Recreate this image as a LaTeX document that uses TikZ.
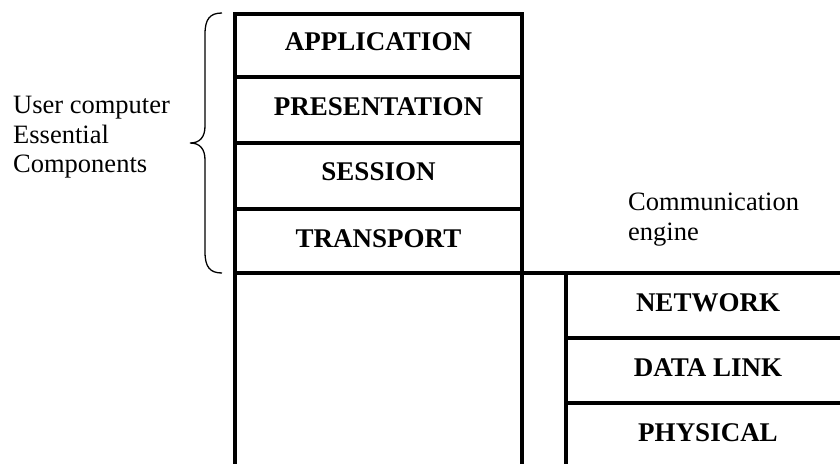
\documentclass[tikz,border=0pt]{standalone}
\usepackage{fontspec}
\setmainfont{Liberation Serif}
\begin{document}
\begin{tikzpicture}[x=1pt,y=-1pt,
  boxline/.style={line width=3.4pt, line join=miter},
  layer/.style={anchor=base, font=\fontsize{27}{30}\selectfont\bfseries, inner sep=0pt},
  note/.style={anchor=base west, font=\fontsize{26.5}{30}\selectfont, inner sep=0pt},
  bracel/.style={line width=1.3pt}]
\useasboundingbox (0,0) rectangle (840,463);
\clip (0,0) rectangle (840,463);
% left stack
\draw[boxline] (235,480) -- (235,14) -- (522,14) -- (522,480);
\draw[boxline] (235,77) -- (522,77);
\draw[boxline] (235,143) -- (522,143);
\draw[boxline] (235,209) -- (522,209);
\draw[boxline] (235,273) -- (860,273);
% right stack
\draw[boxline] (566,480) -- (566,273);
\draw[boxline] (566,338) -- (860,338);
\draw[boxline] (566,403) -- (860,403);
% labels
\node[layer] (app) at (378.5,50) {APPLICATION};
\node[layer] (pre) at (378.5,115) {PRESENTATION};
\node[layer] (ses) at (378.5,180) {SESSION};
\node[layer] (tra) at (378.5,247) {TRANSPORT};
\node[layer] (net) at (708,311) {NETWORK};
\node[layer] (dll) at (708,376) {DATA LINK};
\node[layer] (phy) at (708,441) {PHYSICAL};
\node[note] (u1) at (13,113) {User computer};
\node[note] (u2) at (13,143) {Essential};
\node[note] (u3) at (13,172) {Components};
\node[note] (c1) at (628,210) {Communication};
\node[note] (c2) at (628,240) {engine};
% brace
\draw[bracel] (222,13) .. controls (210,13) and (205,19) .. (205,34) -- (205,126)
  .. controls (205,137) and (200,143) .. (190,143)
  .. controls (200,143) and (205,149) .. (205,160) -- (205,252)
  .. controls (205,267) and (210,273) .. (222,273);
\end{tikzpicture}
\end{document}
